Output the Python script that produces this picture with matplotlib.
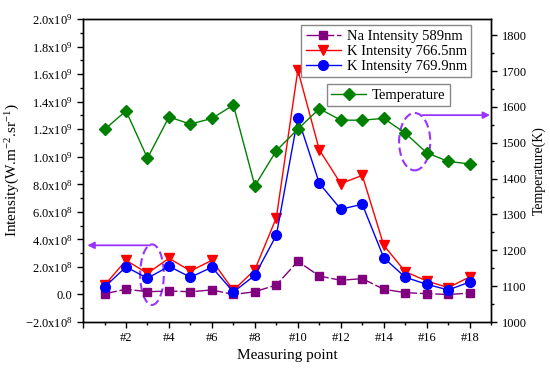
import matplotlib
matplotlib.use('Agg')
import matplotlib.pyplot as plt
from matplotlib.patches import Ellipse
from matplotlib.ticker import MultipleLocator, FuncFormatter
import numpy as np

plt.rcParams['font.family'] = ['Liberation Serif', 'DejaVu Serif']
plt.rcParams['mathtext.fontset'] = 'custom'
plt.rcParams['mathtext.rm'] = 'Liberation Serif'
plt.rcParams['mathtext.it'] = 'Liberation Serif:italic'

# measuring points #1..#18
points = np.arange(1, 19)

# intensities in W.m^-2.sr^-1
na_589 = [0.05e8, 0.38e8, 0.2e8, 0.25e8, 0.2e8, 0.33e8, 0.0, 0.2e8, 0.69e8,
          2.41e8, 1.34e8, 1.03e8, 1.15e8, 0.38e8, 0.13e8, 0.06e8, 0.0, 0.1e8]
k_7665 = [0.67e8, 2.48e8, 1.54e8, 2.63e8, 1.71e8, 2.48e8, 0.3e8, 1.8e8, 5.58e8,
          16.3e8, 10.5e8, 8.05e8, 8.65e8, 3.57e8, 1.66e8, 0.98e8, 0.5e8, 1.27e8]
k_7699 = [0.54e8, 2.0e8, 1.18e8, 2.05e8, 1.25e8, 1.98e8, 0.18e8, 1.39e8, 4.3e8,
          12.84e8, 8.07e8, 6.19e8, 6.55e8, 2.67e8, 1.25e8, 0.74e8, 0.33e8, 0.9e8]

# temperature in K
temperature = [1537, 1589, 1457, 1572, 1552, 1568, 1605, 1380, 1478,
               1538, 1595, 1563, 1563, 1568, 1527, 1472, 1448, 1441]

xtick_pos = list(range(0, 19, 2))
xtick_labels = [''] + ['#%d' % i for i in range(2, 19, 2)]

fig, ax = plt.subplots(figsize=(5.5, 3.74), dpi=100)
fig.subplots_adjust(left=0.151, right=0.893, top=0.949, bottom=0.139)
ax2 = ax.twinx()

l1, = ax.plot(points, na_589, color='#800080', marker='s', markersize=6,
              linestyle=(0, (9, 2)), linewidth=1, label='Na Intensity 589nm')
l2, = ax.plot(points, k_7665, color='#ff0000', marker='v', markersize=7,
              linewidth=1, label='K Intensity 766.5nm')
l3, = ax.plot(points, k_7699, color='#0000ff', marker='o', markersize=7,
              linewidth=1, label='K Intensity 769.9nm')
l4, = ax2.plot(points, temperature, color='#008000', marker='D', markersize=6,
               linewidth=1, label='Temperature')

ax.set_xlim(0, 19)
ax.set_ylim(-2e8, 2e9)
ax2.set_ylim(1000, 1845)

ax.set_xticks(xtick_pos)
ax.set_xticklabels(xtick_labels)
ax.xaxis.set_minor_locator(MultipleLocator(1))
ax.yaxis.set_major_locator(MultipleLocator(2e8))
ax.yaxis.set_minor_locator(MultipleLocator(1e8))
ax2.yaxis.set_major_locator(MultipleLocator(100))
ax2.yaxis.set_minor_locator(MultipleLocator(50))


def sci_fmt(v, pos):
    if abs(v) < 1:
        return '0.0'
    exp = int(np.floor(np.log10(abs(v))))
    mant = v / 10 ** exp
    return r'$%.1f\mathrm{x}10^{%d}$' % (mant, exp)


ax.yaxis.set_major_formatter(FuncFormatter(sci_fmt))

for a in (ax, ax2):
    a.tick_params(which='major', direction='out', length=4, width=1, labelsize=9)
    a.tick_params(which='minor', direction='out', length=2.5, width=1)
    for s in a.spines.values():
        s.set_linewidth(1)
ax.tick_params(top=False, which='both')

ax.set_xlabel('Measuring point', fontsize=11, labelpad=3)
ax.set_ylabel(r'Intensity(W.m$^{-2}$.sr$^{-1}$)', fontsize=11, labelpad=2)
ax2.set_ylabel('Temperature(K)', fontsize=10, labelpad=4)

leg1 = ax2.legend(handles=[l1, l2, l3], loc='upper left',
                  bbox_to_anchor=(0.535, 0.98), fontsize=10.5, frameon=True,
                  fancybox=False, edgecolor='#888888', framealpha=1,
                  borderpad=0.3, labelspacing=0.12, handlelength=2.4,
                  handletextpad=0.4, borderaxespad=0)
ax2.add_artist(leg1)
ax2.legend(handles=[l4], loc='upper left', bbox_to_anchor=(0.597, 0.785),
           fontsize=10.5, frameon=True, fancybox=False, edgecolor='#888888',
           framealpha=1, borderpad=0.3, handlelength=2.4,
           handletextpad=0.4, borderaxespad=0)

# annotations: dashed ellipses and arrows pointing to the matching axis
violet = '#9933ff'
ax.add_patch(Ellipse((3.21, 1.44e8), 1.1, 4.4e8, fill=False, edgecolor=violet,
                     linestyle=(0, (4, 2)), linewidth=1.5))
ax.annotate('', xy=(0.2, 3.57e8), xytext=(3.13, 3.57e8),
            arrowprops=dict(arrowstyle='-|>', color=violet, lw=1.3,
                            mutation_scale=10, shrinkA=0, shrinkB=0))
ax2.add_patch(Ellipse((15.44, 1503), 1.45, 160, fill=False,
                      edgecolor=violet, linestyle=(0, (4, 2)), linewidth=1.5))
ax2.annotate('', xy=(18.95, 1577), xytext=(15.8, 1577),
             arrowprops=dict(arrowstyle='-|>', color=violet, lw=1.3,
                             mutation_scale=10, shrinkA=0, shrinkB=0))

fig.savefig('out.png', dpi=100)
